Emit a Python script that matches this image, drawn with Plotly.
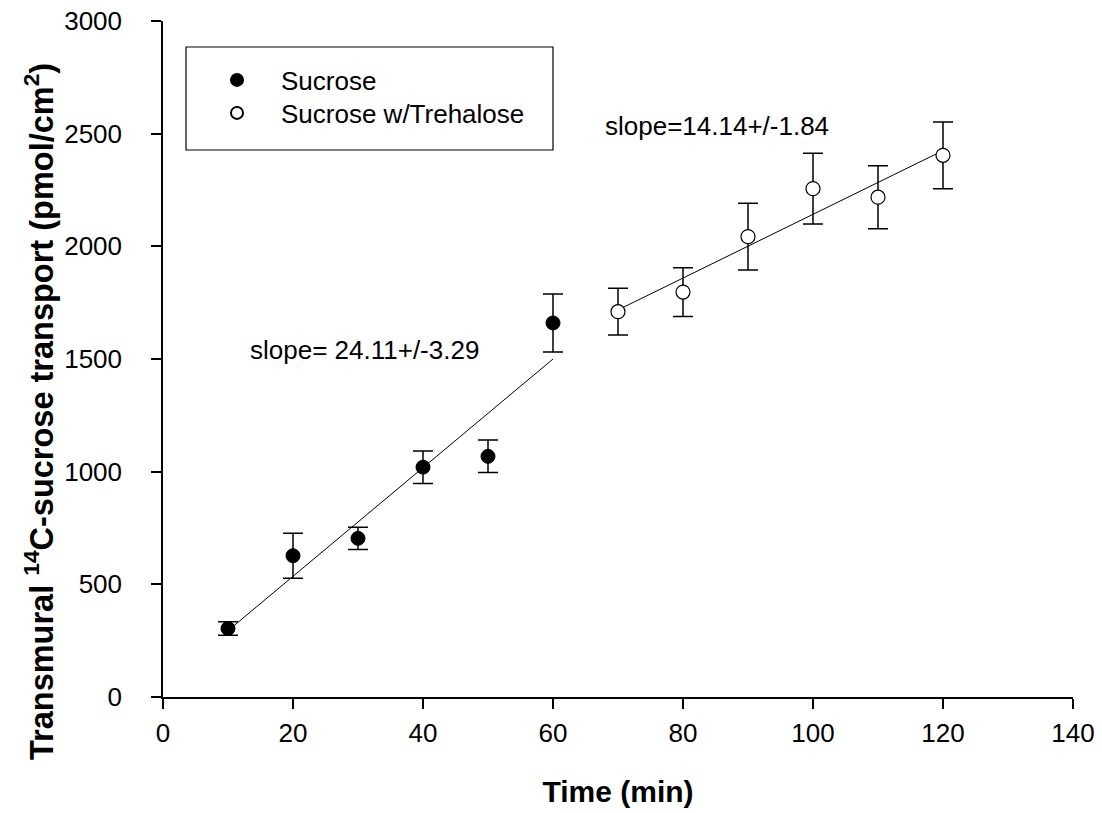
import plotly.graph_objects as go

# Time points (min)
time_sucrose = [10, 20, 30, 40, 50, 60]
time_trehalose = [70, 80, 90, 100, 110, 120]

# Transmural 14C-sucrose transport (pmol/cm2) and standard errors
sucrose = [304, 627, 704, 1020, 1068, 1660]
sucrose_err = [30, 100, 49, 72, 72, 129]
trehalose = [1710, 1797, 2043, 2256, 2218, 2404]
trehalose_err = [104, 108, 148, 157, 140, 148]

# Fitted slopes reported on the chart
slope_sucrose = 24.11
slope_sucrose_se = 3.29
slope_trehalose = 14.14
slope_trehalose_se = 1.84

FONT = "Liberation Sans, Arial, sans-serif"
TXT = 26

# Plot area in pixels
L, R, T, B = 163, 1073, 21, 697
W, H = R - L, B - T


def px_x(p):
    return (p - L) / W


def px_y(p):
    return (B - p) / H


def fit_line(xs, ys, slope):
    """Line through the data centroid with the given slope."""
    mx = sum(xs) / len(xs)
    my = sum(ys) / len(ys)
    b = my - slope * mx
    return [xs[0], xs[-1]], [slope * xs[0] + b, slope * xs[-1] + b]


fig = go.Figure()

for xs, ys, slope in [(time_sucrose, sucrose, slope_sucrose),
                      (time_trehalose, trehalose, slope_trehalose)]:
    lx, ly = fit_line(xs, ys, slope)
    fig.add_trace(go.Scatter(x=lx, y=ly, mode="lines",
                             line=dict(color="black", width=1),
                             showlegend=False, hoverinfo="skip"))

fig.add_trace(go.Scatter(
    x=time_sucrose, y=sucrose, mode="markers", name="Sucrose", legend="legend",
    marker=dict(symbol="circle", size=14, color="black",
                line=dict(color="black", width=1)),
    error_y=dict(type="data", array=sucrose_err, color="black",
                 thickness=1.5, width=10),
))
fig.add_trace(go.Scatter(
    x=time_trehalose, y=trehalose, mode="markers", name="Sucrose w/Trehalose",
    legend="legend2",
    marker=dict(symbol="circle", size=14, color="white",
                line=dict(color="black", width=1.2)),
    error_y=dict(type="data", array=trehalose_err, color="black",
                 thickness=1.5, width=10),
))

fig.add_annotation(x=13, y=1540, xref="x", yref="y", xanchor="left",
                   text=f"slope= {slope_sucrose:.2f}+/-{slope_sucrose_se:.2f}",
                   showarrow=False, font=dict(family=FONT, size=TXT, color="black"))
fig.add_annotation(x=67.7, y=2534, xref="x", yref="y", xanchor="left",
                   text=f"slope={slope_trehalose:.2f}+/-{slope_trehalose_se:.2f}",
                   showarrow=False, font=dict(family=FONT, size=TXT, color="black"))

# Y axis title
fig.add_annotation(x=px_x(39), y=px_y(412), xref="paper", yref="paper",
                   xanchor="center", yanchor="middle", textangle=-90,
                   text="<b>Transmural <sup>14</sup>C-sucrose transport (pmol/cm<sup>2</sup>)</b>",
                   showarrow=False, font=dict(family=FONT, size=32.5, color="black"))

# Legend frame
fig.add_shape(type="rect", xref="paper", yref="paper",
              x0=px_x(186), x1=px_x(553), y0=px_y(150), y1=px_y(47),
              line=dict(color="black", width=1.2), fillcolor="rgba(0,0,0,0)")

legend_common = dict(xanchor="left", yanchor="middle", bgcolor="rgba(0,0,0,0)",
                     borderwidth=0, font=dict(family=FONT, size=TXT),
                     itemsizing="constant", itemwidth=78)

fig.update_layout(
    width=1102, height=813,
    margin=dict(l=L, r=1102 - R, t=T, b=813 - B, autoexpand=False),
    paper_bgcolor="white", plot_bgcolor="white",
    font=dict(family=FONT, size=TXT, color="black"),
    showlegend=True,
    legend=dict(x=px_x(193), y=px_y(80), **legend_common),
    legend2=dict(x=px_x(193), y=px_y(113), **legend_common),
    xaxis=dict(range=[0, 140], tickvals=[0, 20, 40, 60, 80, 100, 120, 140],
               showgrid=False, zeroline=False, showline=True, automargin=False,
               linecolor="black", linewidth=1.5,
               ticks="outside", ticklen=10, tickwidth=1.5, tickcolor="black",
               ticklabelstandoff=2,
               title=dict(text="<b>Time (min)</b>", font=dict(family=FONT, size=30),
                          standoff=34)),
    yaxis=dict(range=[0, 3000], tickvals=[0, 500, 1000, 1500, 2000, 2500, 3000],
               showgrid=False, zeroline=False, showline=True, automargin=False,
               linecolor="black", linewidth=1.5,
               ticks="outside", ticklen=10, tickwidth=1.5, tickcolor="black",
               ticklabelstandoff=24),
)

fig.write_html("out.html")
